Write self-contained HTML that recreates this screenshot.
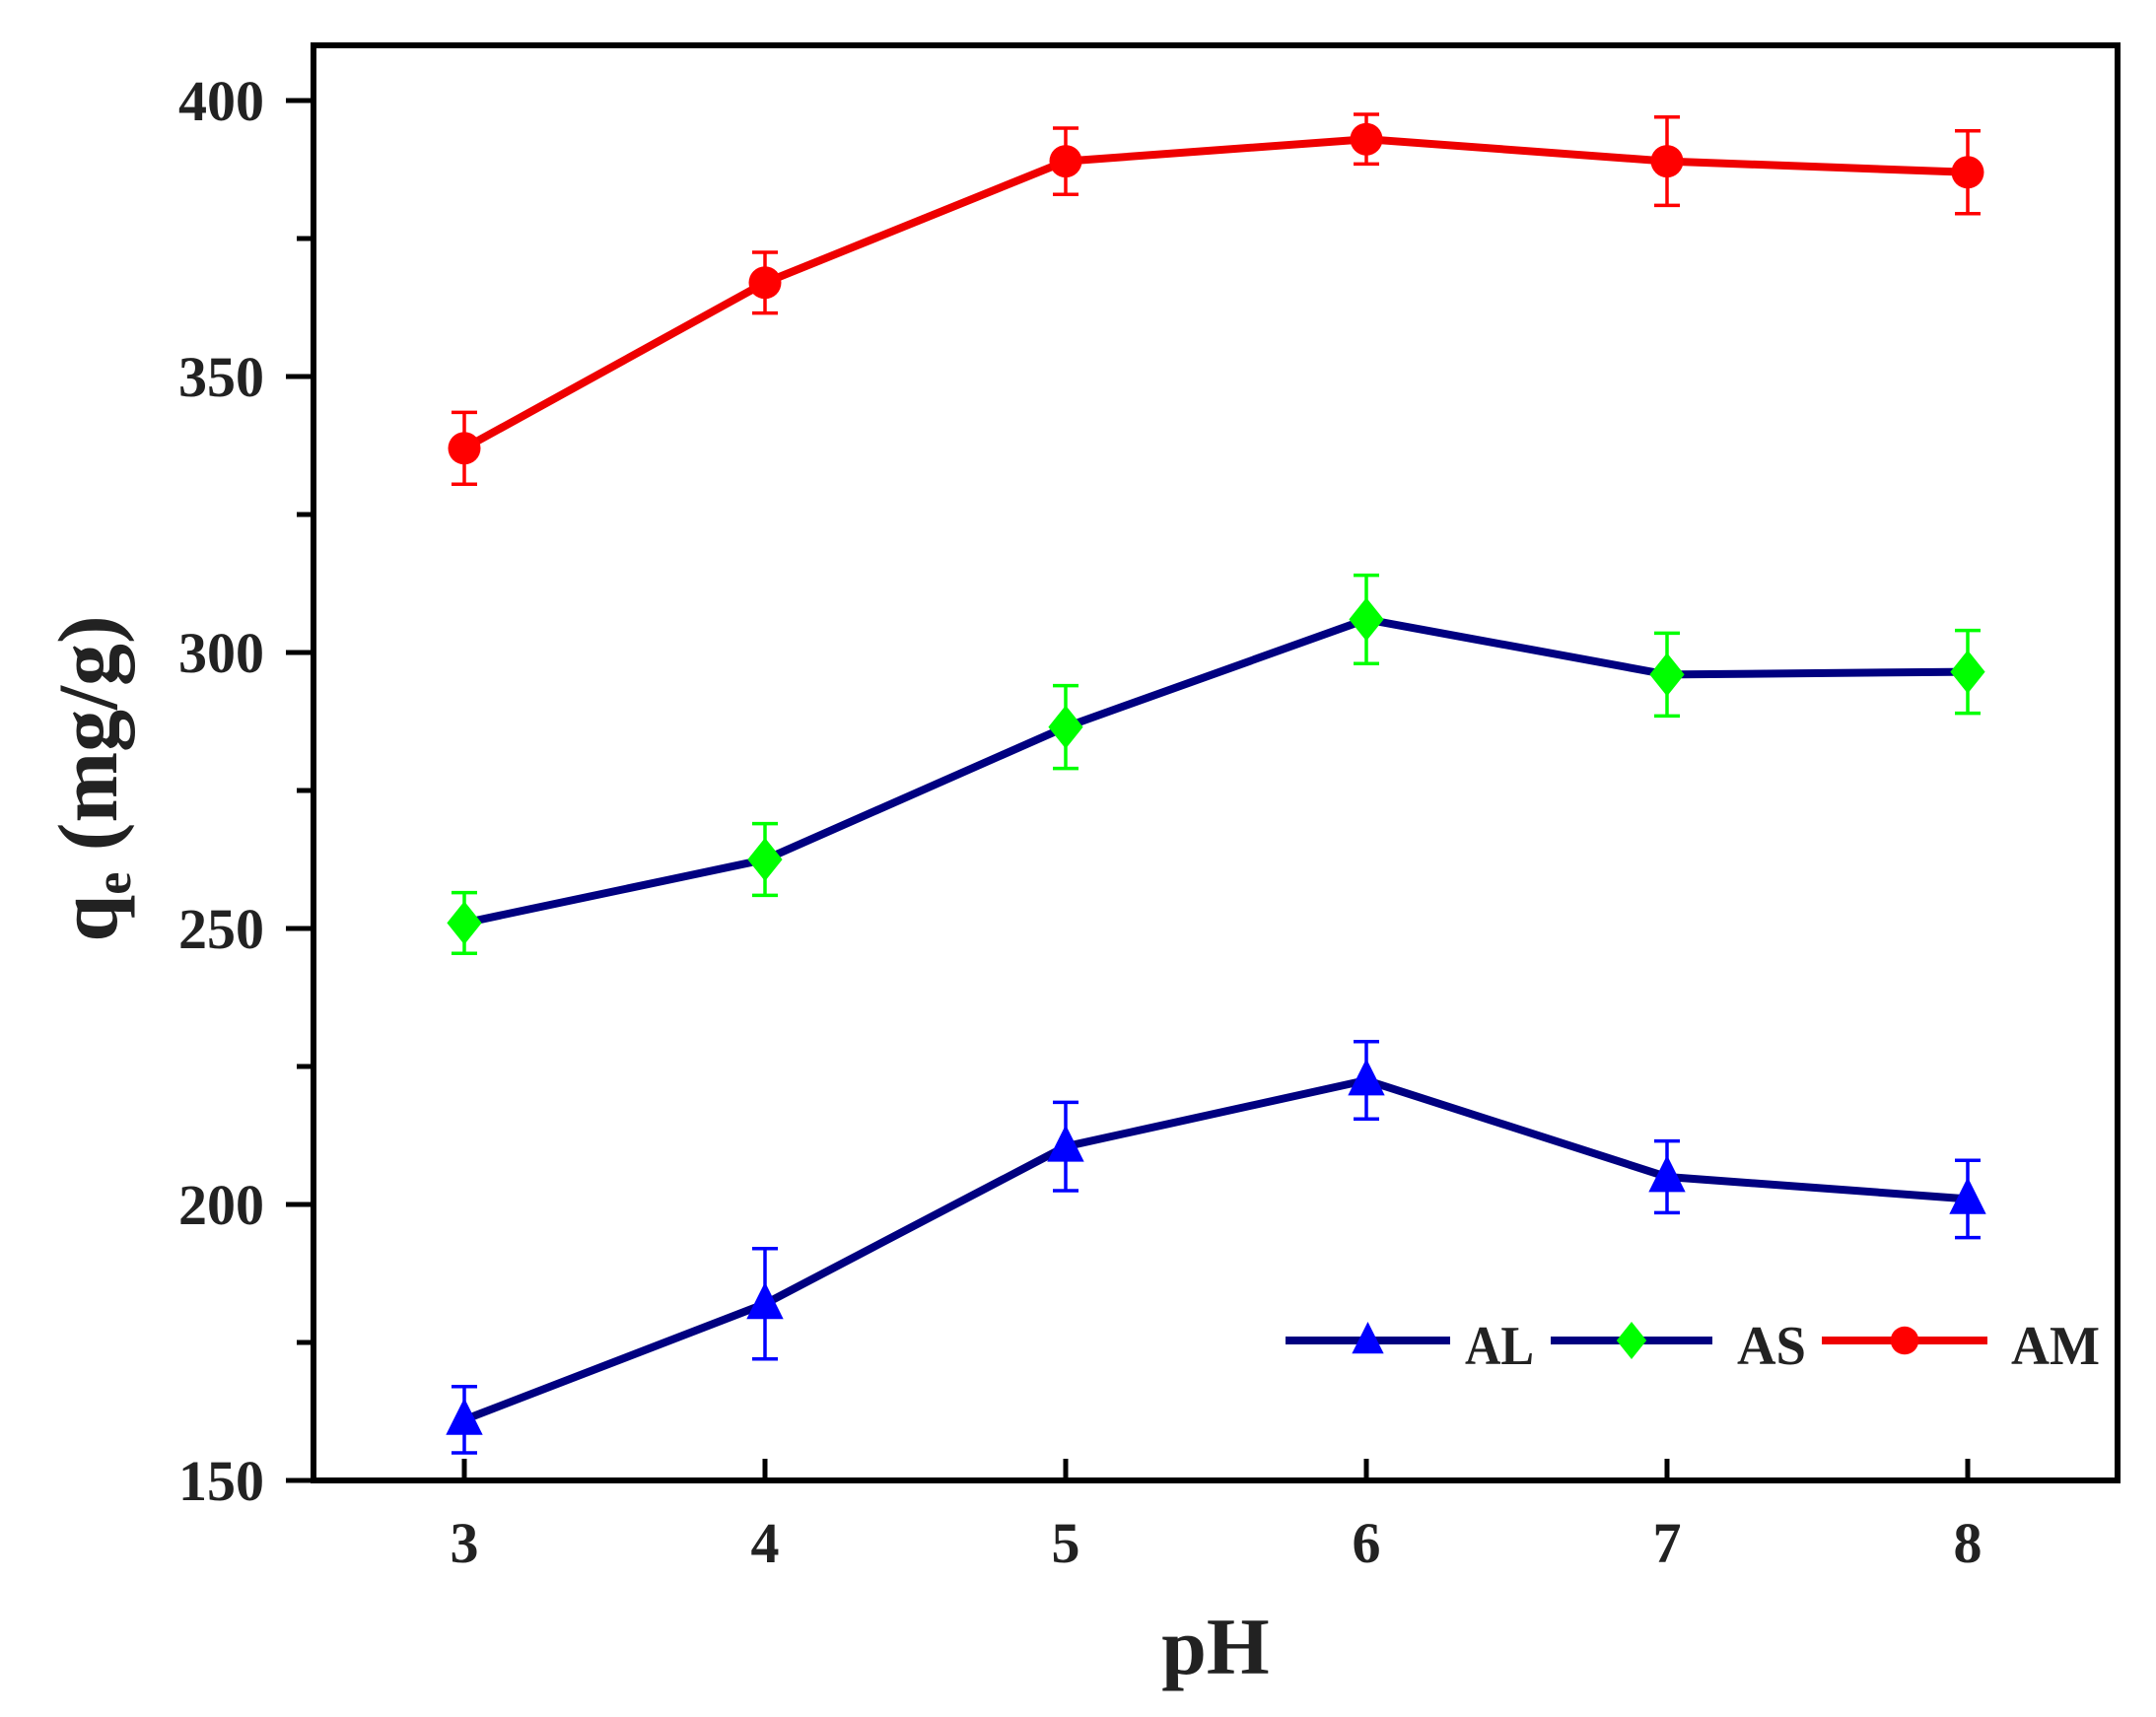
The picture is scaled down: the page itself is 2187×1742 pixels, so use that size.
<!DOCTYPE html>
<html><head><meta charset="utf-8"><style>
html,body{margin:0;padding:0;background:#fff;}
svg{display:block;}
text{font-family:"Liberation Serif",serif;font-weight:bold;fill:#222;}
</style></head><body>
<svg id="chart" width="2187" height="1742" viewBox="0 0 2187 1742" xmlns="http://www.w3.org/2000/svg">
<g id="axes"></g>
<g id="series"></g>
<g id="legend"></g>
</svg>
<script>
const categories = [3,4,5,6,7,8];
const amValues = [337,367,389,393,389,387];
const amErrors = [6.5,5.5,6,4.5,8,7.5];
const asValues = [251,262.5,286.5,306,296,296.5];
const asErrors = [5.5,6.5,7.5,8,7.5,7.5];
const alValues = [161,182,210.5,222.5,205,201];
const alErrors = [6,10,8,7,6.5,7];
const yTicks = [150,200,250,300,350,400];
const yMinorTicks = [175,225,275,325,375];
const xTicks = [3,4,5,6,7,8];

const NS="http://www.w3.org/2000/svg";
const L=318,R=2148,T=46,B=1502;
function xs(v){return 471+(v-3)*305;}
function ys(v){return 1502-(v-150)*5.6;}
function mk(tag,attrs,parent){const e=document.createElementNS(NS,tag);for(const k in attrs)e.setAttribute(k,attrs[k]);parent.appendChild(e);return e;}
const axes=document.getElementById('axes'),series=document.getElementById('series'),legend=document.getElementById('legend');

let fr=mk('rect',{x:L,y:T,width:R-L,height:B-T,fill:'none',stroke:'#000','stroke-width':6},axes);


yTicks.forEach(v=>{
  let t=mk('line',{x1:L-28,x2:L,y1:ys(v),y2:ys(v),stroke:'#000','stroke-width':5},axes);
  
  
  let l=mk('text',{x:L-50,y:ys(v)+20,'font-size':58,'text-anchor':'end'},axes);
  l.textContent=v;
  
  
});
yMinorTicks.forEach(v=>{
  let t=mk('line',{x1:L-17,x2:L,y1:ys(v),y2:ys(v),stroke:'#000','stroke-width':5},axes);
  
  
});
xTicks.forEach(v=>{
  let t=mk('line',{x1:xs(v),x2:xs(v),y1:B,y2:B-22,stroke:'#000','stroke-width':5},axes);
  
  
  let l=mk('text',{x:xs(v),y:1585,'font-size':58,'text-anchor':'middle'},axes);
  l.textContent=v;
  
  
});
let xt=mk('text',{x:1233,y:1698,'font-size':82,'text-anchor':'middle'},axes);
xt.textContent='pH';


let yt=mk('text',{x:0,y:0,'font-size':86,'text-anchor':'middle',transform:'translate(118,790) rotate(-90)'},axes);
yt.innerHTML='q<tspan font-size="52" dy="14">e</tspan><tspan dy="-14"> (mg/g)</tspan>';



function marker(shape,cx,cy,color,parent,s){
  let e;
  if(shape==='tri') e=mk('polygon',{points:`${cx},${cy-s} ${cx+s*0.85},${cy+s*0.7} ${cx-s*0.85},${cy+s*0.7}`,fill:color},parent);
  else if(shape==='dia') e=mk('polygon',{points:`${cx},${cy-s} ${cx+s*0.8},${cy} ${cx},${cy+s} ${cx-s*0.8},${cy}`,fill:color},parent);
  else e=mk('circle',{cx:cx,cy:cy,r:s*0.75,fill:color},parent);
  return e;
}
function drawSeries(name,vals,errs,lineColor,mColor,shape){
  const g=mk('g',{},series);
  
  
  const pl=mk('polyline',{points:categories.map((c,i)=>xs(c)+','+ys(vals[i])).join(' '),fill:'none',stroke:lineColor,'stroke-width':8},g);
  
  
  categories.forEach((c,i)=>{
    const x=xs(c),y1=ys(vals[i]+errs[i]),y2=ys(vals[i]-errs[i]);
    const eb=mk('path',{d:`M${x},${y1}V${y2}M${x-13},${y1}H${x+13}M${x-13},${y2}H${x+13}`,stroke:mColor,'stroke-width':3.5,fill:'none'},g);
    
    
    const m=marker(shape,x,ys(vals[i]),mColor,g,22);
    
    
  });
}
drawSeries('al',alValues,alErrors,'#000080','#0000ff','tri');
drawSeries('as',asValues,asErrors,'#000080','#00ff00','dia');
drawSeries('am',amValues,amErrors,'#ee0000','#ff0000','circ');

const legItems=[['al','AL','#000080','#0000ff','tri',1304,1471,1486],['as','AS','#000080','#00ff00','dia',1573,1737,1762],['am','AM','#ee0000','#ff0000','circ',1848,2016,2040]];
legItems.forEach(it=>{
  const g=mk('g',{},legend);
  
  
  const ly=1360;
  mk('line',{x1:it[5],x2:it[6],y1:ly,y2:ly,stroke:it[2],'stroke-width':8},g);
  marker(it[4],(it[5]+it[6])/2,ly,it[3],g,19);
  const t=mk('text',{x:it[7],y:ly+24,'font-size':56,textLength:it[0]==='am'?90:70,lengthAdjust:'spacingAndGlyphs','font-family':'Liberation Sans'},g);
  t.textContent=it[1];
  
  
});
</script>
</body></html>
